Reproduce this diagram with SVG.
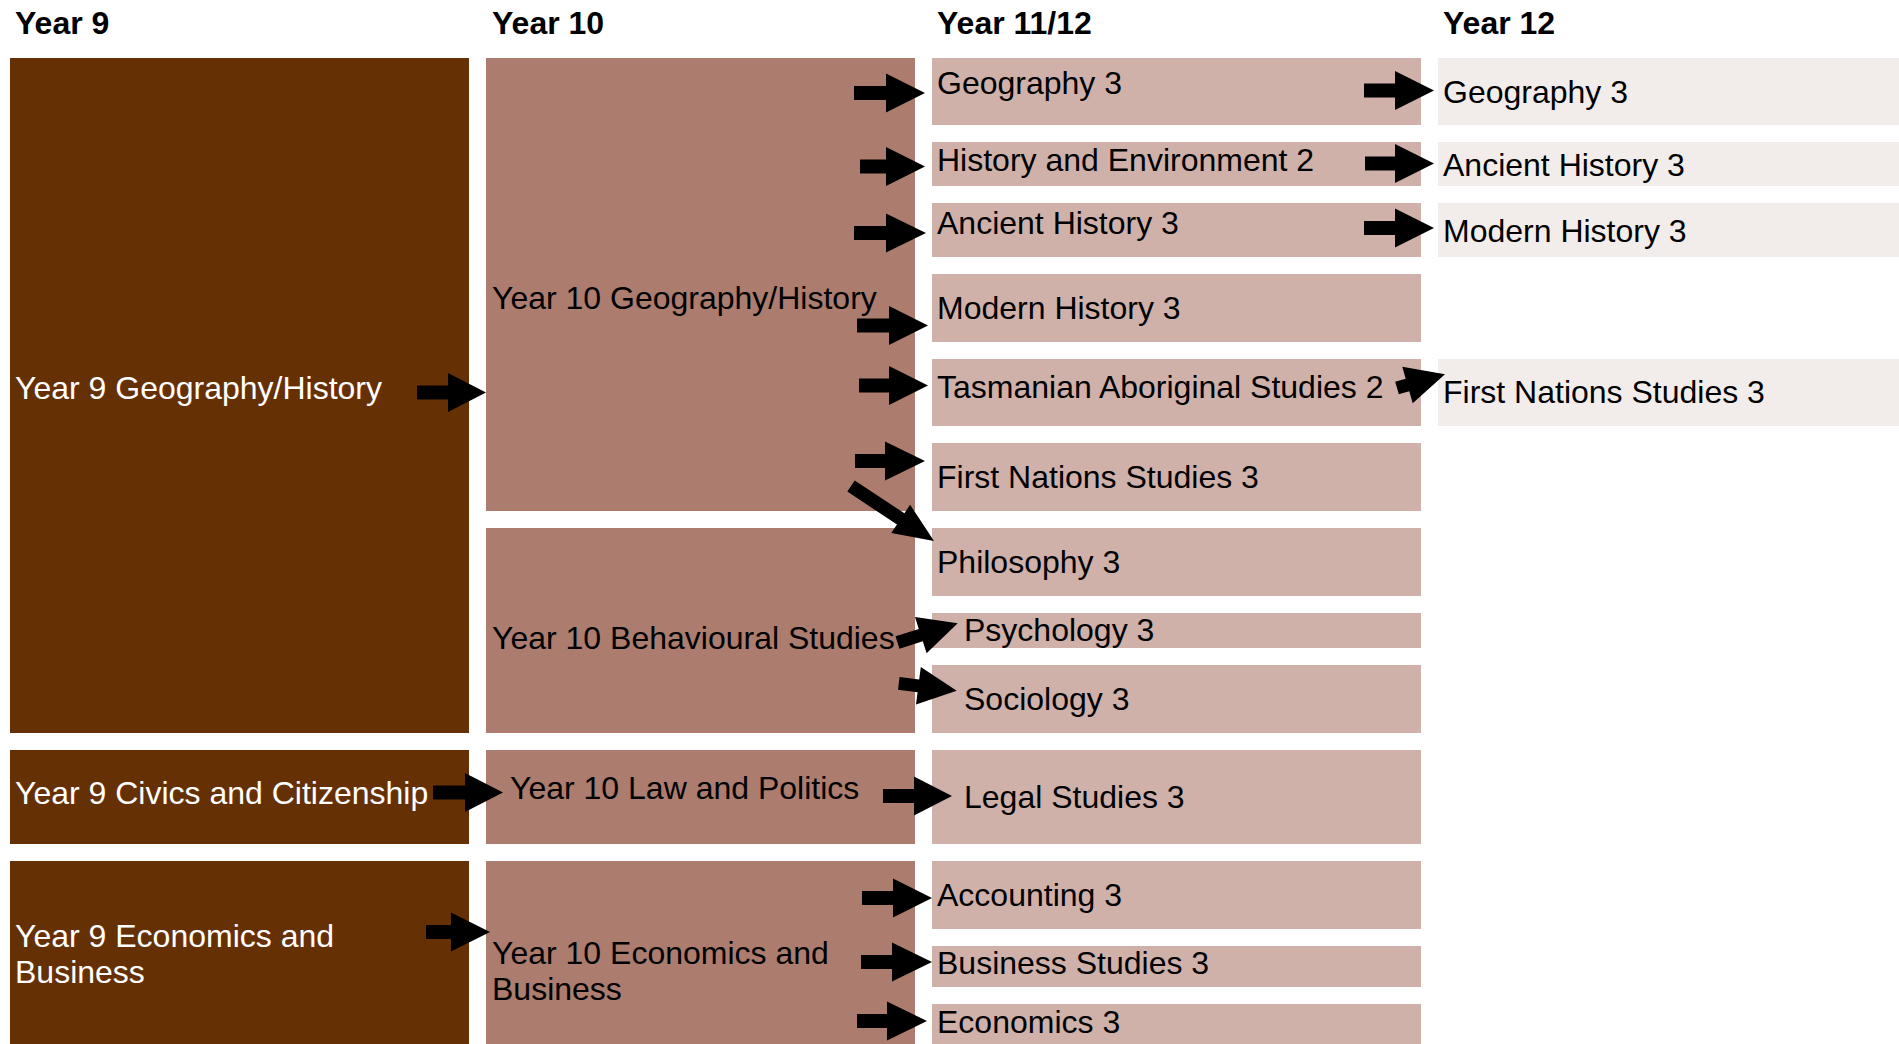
<svg xmlns="http://www.w3.org/2000/svg" width="1899" height="1044" viewBox="0 0 1899 1044">
<style>
  text { font-family: "Liberation Sans", Arial, sans-serif; font-size: 32px; fill: #000; }
  .hdr { font-weight: bold; }
  .y9 { fill: #663005; }
  .y10 { fill: #AC7C6E; }
  .y11 { fill: #CFB1AA; }
  .y12 { fill: #F2EDEB; }
  .w { fill: #fff; }
  .arr { fill: #000; }
</style>
<rect x="0" y="0" width="1899" height="1044" fill="#fff"/>

<g id="headers">
  <text class="hdr" x="15" y="34">Year 9</text>
  <text class="hdr" x="492" y="34">Year 10</text>
  <text class="hdr" x="937" y="34">Year 11/12</text>
  <text class="hdr" x="1443" y="34">Year 12</text>
</g>

<g id="y9-geohist"><rect class="y9" x="10" y="58" width="459" height="675"/><text class="w" x="15" y="399">Year 9 Geography/History</text></g>
<g id="y9-civics"><rect class="y9" x="10" y="750" width="459" height="94"/><text class="w" x="15" y="803.5">Year 9 Civics and Citizenship</text></g>
<g id="y9-econ"><rect class="y9" x="10" y="861" width="459" height="190"/><text class="w" x="15" y="946.5">Year 9 Economics and</text><text class="w" x="15" y="982.5">Business</text></g>

<g id="y10-geohist"><rect class="y10" x="486" y="58" width="429" height="453"/><text x="492" y="309">Year 10 Geography/History</text></g>
<g id="y10-behav"><rect class="y10" x="486" y="528" width="429" height="205"/><text x="492" y="649">Year 10 Behavioural Studies</text></g>
<g id="y10-law"><rect class="y10" x="486" y="750" width="429" height="94"/><text x="510" y="799">Year 10 Law and Politics</text></g>
<g id="y10-econ"><rect class="y10" x="486" y="861" width="429" height="190"/><text x="492" y="964">Year 10 Economics and</text><text x="492" y="1000">Business</text></g>

<g id="c3-geo"><rect class="y11" x="932" y="58" width="489" height="67"/><text x="937" y="94">Geography 3</text></g>
<g id="c3-histenv"><rect class="y11" x="932" y="142" width="489" height="44"/><text x="937" y="171">History and Environment 2</text></g>
<g id="c3-ancient"><rect class="y11" x="932" y="203" width="489" height="54"/><text x="937" y="234">Ancient History 3</text></g>
<g id="c3-modern"><rect class="y11" x="932" y="274" width="489" height="68"/><text x="937" y="319">Modern History 3</text></g>
<g id="c3-tas"><rect class="y11" x="932" y="359" width="489" height="67"/><text x="937" y="398">Tasmanian Aboriginal Studies 2</text></g>
<g id="c3-fn"><rect class="y11" x="932" y="443" width="489" height="68"/><text x="937" y="488">First Nations Studies 3</text></g>
<g id="c3-phil"><rect class="y11" x="932" y="528" width="489" height="68"/><text x="937" y="573">Philosophy 3</text></g>
<g id="c3-psych"><rect class="y11" x="932" y="613" width="489" height="35"/><text x="964" y="641">Psychology 3</text></g>
<g id="c3-soc"><rect class="y11" x="932" y="665" width="489" height="68"/><text x="964" y="710">Sociology 3</text></g>
<g id="c3-legal"><rect class="y11" x="932" y="750" width="489" height="94"/><text x="964" y="808">Legal Studies 3</text></g>
<g id="c3-acc"><rect class="y11" x="932" y="861" width="489" height="68"/><text x="937" y="906">Accounting 3</text></g>
<g id="c3-bus"><rect class="y11" x="932" y="946" width="489" height="41"/><text x="937" y="974">Business Studies 3</text></g>
<g id="c3-econ"><rect class="y11" x="932" y="1004" width="489" height="47"/><text x="937" y="1032.5">Economics 3</text></g>

<g id="c4-geo"><rect class="y12" x="1438" y="58" width="461" height="67"/><text x="1443" y="102.7">Geography 3</text></g>
<g id="c4-ancient"><rect class="y12" x="1438" y="142" width="461" height="44"/><text x="1443" y="175.7">Ancient History 3</text></g>
<g id="c4-modern"><rect class="y12" x="1438" y="203" width="461" height="54"/><text x="1443" y="242">Modern History 3</text></g>
<g id="c4-fn"><rect class="y12" x="1438" y="359" width="461" height="67"/><text x="1443" y="403">First Nations Studies 3</text></g>

<g id="connectors">
  <polygon class="arr" points="417,385.5 448,385.5 448,373 486,392.5 448,412 448,399.5 417,399.5"/>
  <polygon class="arr" points="854,86 886,86 886,73.5 925,93 886,112.5 886,100 854,100"/>
  <polygon class="arr" points="860,159.5 886,159.5 886,147 925,166.5 886,186 886,173.5 860,173.5"/>
  <polygon class="arr" points="854,226 886,226 886,213.5 926,233 886,252.5 886,240 854,240"/>
  <polygon class="arr" points="857,318.5 889,318.5 889,306 928,325.5 889,345 889,332.5 857,332.5"/>
  <polygon class="arr" points="859,378.5 889,378.5 889,366 928,385.5 889,405 889,392.5 859,392.5"/>
  <polygon class="arr" points="855,454 885,454 885,441.5 925,461 885,480.5 885,468 855,468"/>
  <polygon class="arr" points="1364,83.5 1395,83.5 1395,71 1434,90.5 1395,110 1395,97.5 1364,97.5"/>
  <polygon class="arr" points="1365,156.5 1395,156.5 1395,144 1434,163.5 1395,183 1395,170.5 1365,170.5"/>
  <polygon class="arr" points="1364,221 1395,221 1395,208.5 1434,228 1395,247.5 1395,235 1364,235"/>
  <polygon class="arr" points="433,785.5 465,785.5 465,773 503,792.5 465,812 465,799.5 433,799.5"/>
  <polygon class="arr" points="883,789 914,789 914,776.5 952,796 914,815.5 914,803 883,803"/>
  <polygon class="arr" points="426,925 451,925 451,912.5 490,932 451,951.5 451,939 426,939"/>
  <polygon class="arr" points="862,891 893,891 893,878.5 932,898 893,917.5 893,905 862,905"/>
  <polygon class="arr" points="861,955 892,955 892,942.5 932,962 892,981.5 892,969 861,969"/>
  <polygon class="arr" points="857,1014 887,1014 887,1001.5 927,1021 887,1040.5 887,1028 857,1028"/>
  <polygon class="arr" points="854.7,480.4 904.4,513.3 910.1,504.7 934,541 891.3,533.1 897,524.5 847.3,491.6"/>
  <polygon class="arr" points="1395.2,381.8 1405.7,378.8 1402.3,366.7 1445,374.3 1412.7,403.3 1409.3,391.3 1398.8,394.3"/>
  <polygon class="arr" points="895.5,636.3 918.8,628.9 915,617 957.7,623.3 926.6,653.2 922.8,641.3 899.5,648.7"/>
  <polygon class="arr" points="899.6,676.9 919.2,679.4 920.8,667 956.7,690.7 916,704.6 917.6,692.2 898,689.7"/>
</g>
</svg>
